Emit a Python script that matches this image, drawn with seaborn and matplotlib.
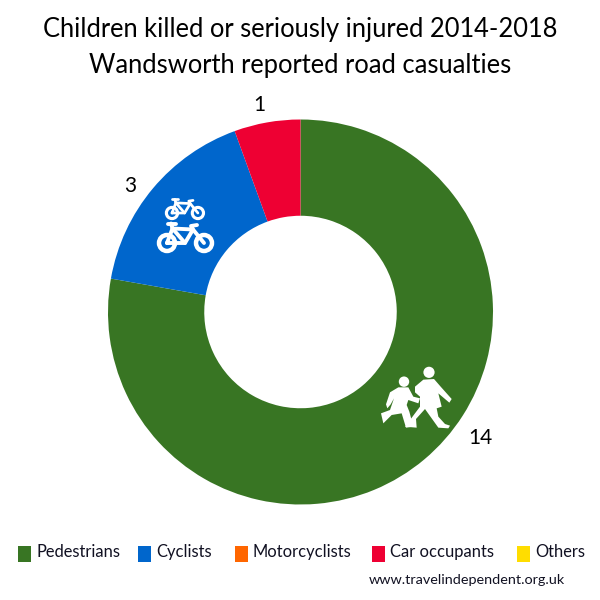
import matplotlib
matplotlib.use("Agg")
import matplotlib.pyplot as plt
from matplotlib.patches import Circle, Polygon, Rectangle
import seaborn as sns

categories = ["Pedestrians", "Cyclists", "Motorcyclists", "Car occupants", "Others"]
casualties = [14, 3, 0, 1, 0]
colours = ["#387523", "#0066CC", "#FF6600", "#EE0033", "#FFDD00"]
title_lines = ["Children killed or seriously injured 2014-2018", "Wandsworth reported road casualties"]
source = "www.travelindependent.org.uk"

sns.set_theme(style="white")
plt.rcParams["font.family"] = ["Lato", "DejaVu Sans"]
palette = sns.color_palette(colours)

fig = plt.figure(figsize=(6, 6), dpi=100)
ax = fig.add_axes([0, 0, 1, 1])
# work in pixels, y going down like the picture
ax.set_xlim(0, 600)
ax.set_ylim(600, 0)
ax.axis("off")

# pie needs a y-up axis, so draw it on its own axes placed over the pixel box
pie_ax = fig.add_axes([(300.5 - 192.5) / 600, (288 - 193) / 600, 385 / 600, 386 / 600])
pie_ax.pie(casualties, colors=palette, startangle=90, counterclock=False, radius=1,
           wedgeprops={"width": 0.5, "linewidth": 0})
pie_ax.set_xlim(-1, 1)
pie_ax.set_ylim(-1, 1)
pie_ax.set_zorder(0)
ax.set_zorder(1)
ax.patch.set_alpha(0)

ax.text(300, 30, title_lines[0], ha="center", va="center", fontsize=18.4, color="black")
ax.text(300, 65, title_lines[1], ha="center", va="center", fontsize=18.4, color="black")

# value labels, only for the non-zero groups
ax.text(259, 105, str(casualties[3]), ha="center", va="center", fontsize=15, color="black")
ax.text(130, 186, str(casualties[1]), ha="center", va="center", fontsize=15, color="black")
ax.text(480, 438, str(casualties[0]), ha="center", va="center", fontsize=15, color="black")

# legend has uneven gaps so place it by hand
legend_x = [18, 138, 235, 372, 517]
for x, name, c in zip(legend_x, categories, palette):
    ax.add_patch(Rectangle((x, 546), 13, 16, color=c, linewidth=0))
    ax.text(x + 18, 552, name, ha="left", va="center", fontsize=11.9, color="#111122")

ax.text(565, 580, source, ha="right", va="center", fontsize=10.4, color="#111122")


def draw_bike(x, y, s):
    # x, y is the middle of the rear wheel, s the wheel radius
    gap = 3.7 * s
    for wx in (x, x + gap):
        ax.add_patch(Circle((wx, y), s * 0.8, fill=False, ec="white", lw=s * 0.32))
    seat = (x + 0.55 * s, y - 1.45 * s)
    head = (x + 2.6 * s, y - 1.35 * s)
    pedal = (x + 1.8 * s, y)
    frame = [[(x, y), seat, head, pedal, (x, y)],
             [seat, pedal],
             [(x + gap, y), head, (x + 2.4 * s, y - 1.7 * s), (x + 3.0 * s, y - 1.8 * s)],
             [seat, (x + 0.4 * s, y - 1.95 * s)],
             [(x + 0.05 * s, y - 1.95 * s), (x + 0.9 * s, y - 1.95 * s)]]
    for part in frame:
        ax.plot(*zip(*part), color="white", lw=s * 0.28, solid_capstyle="round")


draw_bike(172, 213, 7)
draw_bike(167, 243, 10)

# school children sign, outline points taken from the crop at 3x
big_child = [(135, 95), (160, 74), (192, 72), (212, 95), (245, 132), (238, 143), (205, 115), (215, 155),
             (200, 160), (205, 185), (225, 207), (240, 212), (235, 220), (205, 218), (165, 162),
             (138, 192), (140, 218), (105, 215), (150, 155), (150, 125), (135, 112)]
small_child = [(60, 112), (85, 97), (115, 97), (130, 125), (150, 130), (145, 145), (115, 135), (110, 150),
               (118, 170), (130, 215), (108, 218), (95, 175), (65, 180), (40, 205), (33, 175), (60, 165),
               (72, 130), (62, 148), (52, 160), (48, 148)]
for shape in (big_child, small_child):
    ax.add_patch(Polygon([(370 + px / 3, 355 + py / 3) for px, py in shape], color="white", linewidth=0))
ax.add_patch(Circle((370 + 177 / 3, 355 + 52 / 3), 5.6, color="white", linewidth=0))
ax.add_patch(Circle((370 + 102 / 3, 355 + 80 / 3), 5.2, color="white", linewidth=0))

fig.savefig("out.png", dpi=100, facecolor="white")
